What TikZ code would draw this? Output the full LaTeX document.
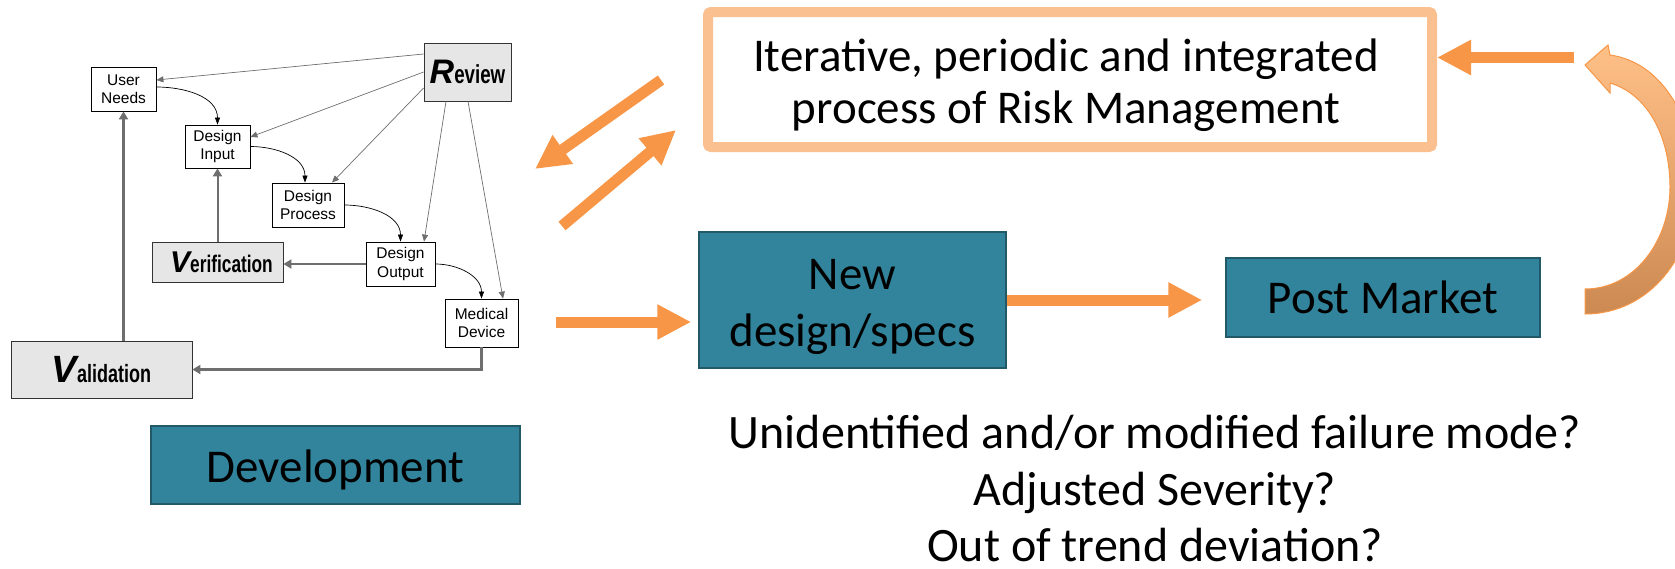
\documentclass[tikz,border=0pt]{standalone}
\usepackage{fontspec}
\setmainfont{Carlito}
\newfontfamily\arialf{Liberation Sans}
\newfontfamily\narrowf[FakeStretch=0.72]{Liberation Sans}
\usetikzlibrary{arrows.meta,calc}
\definecolor{orng}{HTML}{F79646}
\definecolor{lorng}{HTML}{FAC090}
\definecolor{tealA}{HTML}{31849B}
\definecolor{tealB}{HTML}{215968}
\definecolor{boxgray}{HTML}{E6E6E6}
\definecolor{linegray}{HTML}{6E6E6E}
\definecolor{cA}{HTML}{FFC088}
\definecolor{cB}{HTML}{F7963F}
\definecolor{cC}{HTML}{CC8A52}
\begin{document}
\begin{tikzpicture}[x=1pt,y=-1pt,
 smallbox/.style={draw=black, line width=0.8pt, fill=white, inner sep=0pt, align=center, font=\arialf\fontsize{15.5}{18.5}\selectfont},
 graybox/.style={draw=black!80, line width=0.8pt, fill=boxgray, inner sep=0pt},
 tealbox/.style={draw=tealB, line width=1.5pt, fill=tealA, inner sep=0pt, align=center, font=\fontsize{47}{57}\selectfont},
 revarrow/.style={draw=linegray, line width=0.7pt, -{Triangle[length=7pt,width=6pt]}},
 flowarrow/.style={draw=black, line width=0.7pt, -{Triangle[length=7pt,width=5pt]}},
 thickarrow/.style={draw=linegray, line width=2.6pt, -{Triangle[length=8pt,width=9pt]}},
 bigarrow/.style={draw=orng, line width=11pt, -{Triangle[length=34pt,width=33pt]}},
]
\useasboundingbox (0,0) rectangle (1675,568);
% left diagram
\node[smallbox, minimum width=65pt, minimum height=44pt] (UN) at (123.5,89) {User\\Needs};
\node[graybox, minimum width=87pt, minimum height=58pt] (RV) at (467.5,72) {\arialf\bfseries\itshape\fontsize{34}{34}\selectfont R\narrowf\upshape\fontsize{26}{26}\selectfont eview};
\node[smallbox, minimum width=65pt, minimum height=43pt] (DI) at (217.5,146.5) {Design\\Input};
\node[smallbox, minimum width=72pt, minimum height=44pt] (DP) at (308,205) {Design\\Process};
\node[graybox, minimum width=131pt, minimum height=40pt] (VE) at (217.5,262) {\hspace*{8pt}\arialf\bfseries\itshape\fontsize{30}{30}\selectfont V\narrowf\upshape\fontsize{24}{24}\selectfont erification};
\node[smallbox, minimum width=69pt, minimum height=44pt] (DO) at (400.5,264) {Design\\Output};
\node[smallbox, minimum width=73pt, minimum height=48pt] (MD) at (481.5,323) {Medical\\Device};
\node[graybox, minimum width=181pt, minimum height=57pt] (VA) at (101.5,369.5) {\arialf\bfseries\itshape\fontsize{38}{38}\selectfont V\narrowf\upshape\fontsize{25}{25}\selectfont alidation};
\node[tealbox, minimum width=369pt, minimum height=78pt] (DEV) at (335.5,465) {\rule{0pt}{42pt}Development};
% flow arrows
\draw[flowarrow] ([yshift=2pt]UN.east) to[out=0,in=90] (DI.north);
\draw[flowarrow] (DI.east) to[out=0,in=90] ([xshift=-3pt]DP.north);
\draw[flowarrow] (DP.east) to[out=0,in=90] (DO.north);
\draw[flowarrow] (DO.east) to[out=0,in=90] (MD.north);
% review arrows
\draw[revarrow] ([yshift=18pt]RV.west) -- ([yshift=9pt]UN.east);
\draw[revarrow] (RV.west) -- ([yshift=9.5pt]DI.east);
\draw[revarrow] ([yshift=-16pt]RV.west) -- ([xshift=24pt]DP.north);
\draw[revarrow] ([xshift=-21.5pt]RV.south) -- ([xshift=23.5pt]DO.north);
\draw[revarrow] ([xshift=0.5pt]RV.south) -- ([xshift=21.5pt]MD.north);
% thick gray
\draw[thickarrow] (UN.south |- VA.north) -- (UN.south);
\draw[thickarrow, line width=2pt] (DI.south |- VE.north) -- (DI.south);
\draw[thickarrow, line width=2pt] (DO.west) -- (DO.west -| VE.east);
\draw[thickarrow] (MD.south) |- (VA.east);
% right side
\node[draw=lorng, line width=10pt, rounded corners=3pt, fill=white, minimum width=724pt, minimum height=135pt, inner sep=0pt] (RISK) at (1070,79.5) {};
\node[font=\fontsize{47}{52}\selectfont, align=center, inner sep=0pt] (RT) at (1066,85) {Iterative, periodic and integrated\\process of Risk Management};
\node[tealbox, minimum width=307pt, minimum height=136pt] (NEW) at (852.5,300) {\rule{0pt}{44pt}New\\design/specs};
\node[tealbox, minimum width=314pt, minimum height=79pt] (PM) at (1383,297.5) {Post Market};
\node[font=\fontsize{48}{56.5}\selectfont, align=center, inner sep=0pt] (Q) at (1155,489) {Unidentified and/or modified failure mode?\\Adjusted Severity?\\Out of trend deviation?};
% orange arrows
\coordinate (rt) at (1574,57.5);
\draw[bigarrow] (rt) -- (rt -| RISK.east);
\coordinate (a1s) at (661,80);
\coordinate (a1e) at (535,169);
\draw[bigarrow] (a1s) -- (a1e);
\coordinate (a2s) at (562,226);
\coordinate (a2e) at (676,130);
\draw[bigarrow] (a2s) -- (a2e);
\coordinate (a3s) at (556,322);
\draw[bigarrow, shorten >=7pt] (a3s) -- (a3s -| NEW.west);
\draw[bigarrow, shorten >=23pt] (NEW.east) -- (NEW.east -| PM.west);
% curved arrow
\path[draw=orng, line width=1pt, top color=cA, middle color=cB, bottom color=cC]
 (1585,314) .. controls (1650,314) and (1695,255) .. (1695,187)
 .. controls (1695,115) and (1660,62) .. (1610,55)
 -- (1608,45) -- (1585,65) -- (1610,93) -- (1610,83)
 .. controls (1650,95) and (1670,140) .. (1670,187)
 .. controls (1670,240) and (1635,289) .. (1585,289) -- cycle;
\end{tikzpicture}
\end{document}
